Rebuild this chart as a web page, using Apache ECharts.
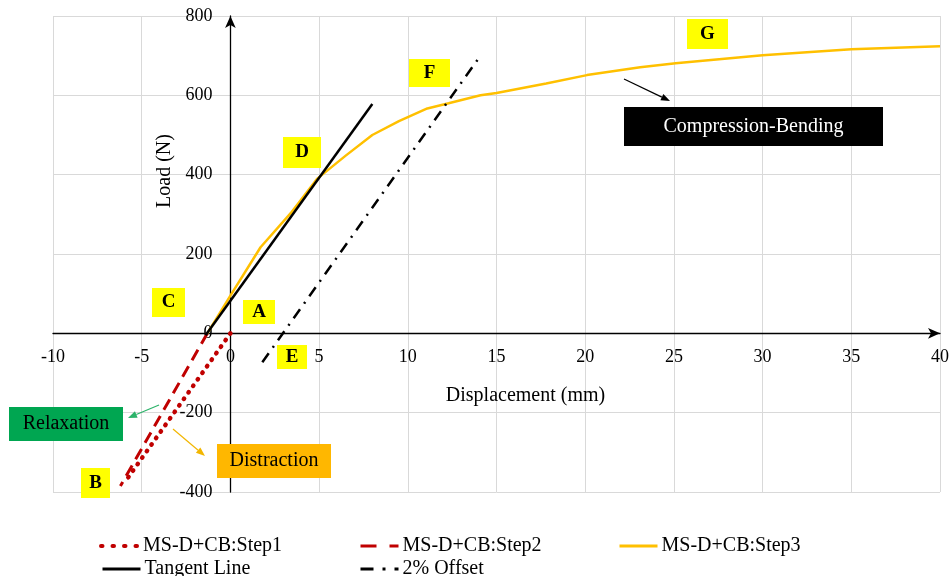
<!DOCTYPE html>
<html><head><meta charset="utf-8">
<script src="https://cdn.jsdelivr.net/npm/echarts@6/dist/echarts.min.js"></script>
<style>html,body{margin:0;padding:0;background:#fff}#c{width:952px;height:576px}</style>
</head><body><div id="c"></div>
<script>
// ---- data ----
const seriesNames = ['MS-D+CB:Step1','MS-D+CB:Step2','MS-D+CB:Step3','Tangent Line','2% Offset'];
const step1X = [0, -5.9];
const step1Y = [0, -372];
const step2X = [-1.3, -6.2];
const step2Y = [0, -385];
const step3X = [-1.3, 0, 1.7, 3.4, 4.9, 6.5, 8.0, 9.5, 11.1, 12.3, 14.1, 15, 17.8, 20.1, 23.1, 25.1, 30.0, 35.0, 40.0];
const step3Y = [0, 95, 217, 303, 390, 448, 500, 535, 567, 580, 600, 606, 630, 651, 671, 681, 701, 716, 724];
const tangentX = [-1.4, 8.0];
const tangentY = [-5, 578];
const offsetX = [1.8, 14.1];
const offsetY = [-73, 700];
const xMin = -10, xMax = 40, xStep = 5;
const yMin = -400, yMax = 800, yStep = 200;
const xTitle = 'Displacement (mm)';
const yTitle = 'Load (N)';
const letterLabels = ['G','F','D','C','A','E','B'];
const calloutLabels = ['Relaxation','Distraction','Compression-Bending'];

const zip = (xs, ys) => xs.map((x, i) => [x, ys[i]]);
const FONT = '"Liberation Serif","Times New Roman",serif';

const W = 952, H = 576;
const G = {left:53, right:12, top:16, bottom:84};
const plotW = W - G.left - G.right, plotH = H - G.top - G.bottom;
// axes cross at zero: shift them from the grid edges
const xAxisOffset = -((0 - yMin) / (yMax - yMin)) * plotH;
const yAxisOffset = -((0 - xMin) / (xMax - xMin)) * plotW;

const chart = echarts.init(document.getElementById('c'));

// ---- annotation graphics ----
const letterBoxes = [
  [687,19,41,30],[409,59,41,28],[283,137,38,31],[152,288,33,29],[243,300,32,24],[277,345,30,24],[81,468,29,30]
];
const calloutBoxes = [
  {r:[9,407,114,34], fill:'#00a651', color:'#000'},
  {r:[217,444,114,34], fill:'#ffb700', color:'#000'},
  {r:[624,107,259,39], fill:'#000', color:'#fff'}
];
const arrows = [
  {p:[159,405,128,418], color:'#2cb36a'},
  {p:[173,429,205,456], color:'#f2b600'},
  {p:[624,79,670,101], color:'#000'}
];

function box(r, fill, text, color, fontSize, bold) {
  return {
    type:'group', x:r[0], y:r[1], z:100, children:[
      {type:'rect', z:100, shape:{x:0,y:0,width:r[2],height:r[3]}, style:{fill:fill}},
      {type:'text', z:101, x:r[2]/2, y:r[3]/2, style:{text:text, fill:color, font:(bold?'bold ':'')+fontSize+'px '+FONT, align:'center', verticalAlign:'middle'}}
    ]
  };
}
function arrow(p, color) {
  const [x1,y1,x2,y2] = p;
  const a = Math.atan2(y2-y1, x2-x1), L = 9, Wd = 3.5;
  const bx = x2 - L*Math.cos(a), by = y2 - L*Math.sin(a);
  const nx = -Math.sin(a)*Wd, ny = Math.cos(a)*Wd;
  return [
    {type:'line', z:100, shape:{x1:x1,y1:y1,x2:bx,y2:by}, style:{stroke:color, lineWidth:1.2}},
    {type:'polygon', z:100, shape:{points:[[x2,y2],[bx+nx,by+ny],[bx-nx,by-ny]]}, style:{fill:color}}
  ];
}
const graphics = [];
letterBoxes.forEach((r,i)=>graphics.push(box(r,'#ffff00',letterLabels[i],'#000',19,true)));
calloutBoxes.forEach((c,i)=>graphics.push(box(c.r,c.fill,calloutLabels[i],c.color,20,false)));
arrows.forEach(a=>graphics.push(...arrow(a.p,a.color)));
graphics.push({type:'text', z:100, x:165, y:171, rotation:Math.PI/2,
  style:{text:yTitle, fill:'#000', font:'20px '+FONT, align:'center', verticalAlign:'middle'}});

// ---- legends ----
const legendPos = [[94,531],[354,531],[613,531],[96,554],[354,554]];
const legendLine = [
  {width:4, type:[1.5,10], cap:'round'},
  {width:3, type:[16,13]},
  {width:3},
  {width:3},
  {width:3, type:[13,9,3,9]}
];
const legends = seriesNames.map((n,i)=>({
  data:[n], left:legendPos[i][0], top:legendPos[i][1], itemWidth:38, itemHeight:14, itemGap:0,
  textStyle:{fontFamily:FONT, fontSize:20, color:'#000', padding:[0,0,0,-1]},
  itemStyle:{opacity:0}, lineStyle:legendLine[i], selectedMode:false
}));

const common = {type:'line', symbol:'none', showSymbol:false, animation:false, silent:true};
chart.setOption({
  animation:false,
  backgroundColor:'#fff',
  textStyle:{fontFamily:FONT},
  grid:{left:G.left, right:G.right, top:G.top, bottom:G.bottom, containLabel:false},
  legend: legends,
  xAxis:{
    type:'value', min:xMin, max:xMax, interval:xStep, position:'bottom', offset:xAxisOffset,
    name:xTitle, nameLocation:'middle', nameGap:52,
    nameTextStyle:{fontFamily:FONT, fontSize:20, color:'#000', padding:[0,0,0,58]},
    axisLine:{onZero:false, lineStyle:{color:'#000', width:1.3}, symbol:['none','arrow'], symbolSize:[8,12]},
    axisTick:{show:false},
    axisLabel:{fontFamily:FONT, fontSize:18, color:'#000', margin:15},
    splitLine:{show:true, lineStyle:{color:'#d9d9d9', width:1}}
  },
  yAxis:{
    type:'value', min:yMin, max:yMax, interval:yStep, position:'left', offset:yAxisOffset,
    axisLine:{show:true, onZero:false, lineStyle:{color:'#000', width:1.3}, symbol:['none','arrow'], symbolSize:[8,12]},
    axisTick:{show:false},
    axisLabel:{fontFamily:FONT, fontSize:18, color:'#000', margin:18},
    splitLine:{show:true, lineStyle:{color:'#d9d9d9', width:1}}
  },
  series:[
    {...common, name:seriesNames[0], data:zip(step1X,step1Y), color:'#c00000',
      lineStyle:{color:'#c00000', width:4.5, type:[0.5,7.5], cap:'round'}},
    {...common, name:seriesNames[1], data:zip(step2X,step2Y), color:'#c00000',
      lineStyle:{color:'#c00000', width:3, type:[12,7]}},
    {...common, name:seriesNames[2], data:zip(step3X,step3Y), color:'#ffc000',
      lineStyle:{color:'#ffc000', width:2.5}},
    {...common, name:seriesNames[3], data:zip(tangentX,tangentY), color:'#000',
      lineStyle:{color:'#000', width:2.5}},
    {...common, name:seriesNames[4], data:zip(offsetX,offsetY), color:'#000',
      lineStyle:{color:'#000', width:2.5, type:[11,7,2,7]}}
  ],
  graphic: graphics
});
</script></body></html>
